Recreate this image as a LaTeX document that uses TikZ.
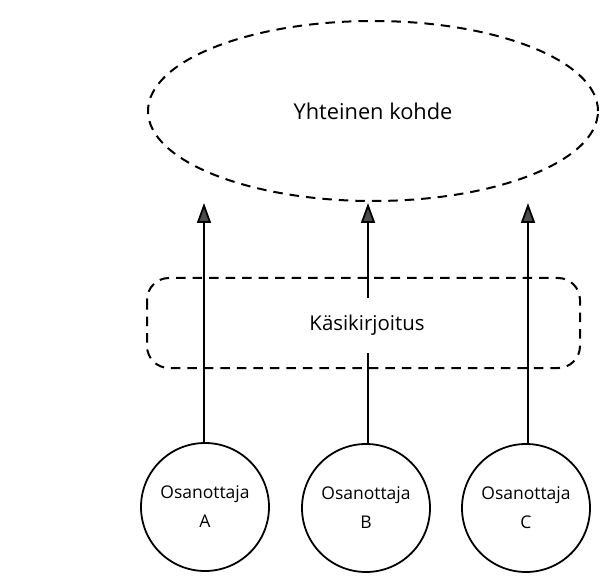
\documentclass[tikz,border=0pt]{standalone}
\usepackage{fontspec}
\setmainfont{Open Sans}
\usetikzlibrary{arrows.meta,shapes.geometric}
\begin{document}
\begin{tikzpicture}[x=1pt,y=-1pt,
  dashline/.style={line width=2pt,dash pattern=on 9.5pt off 7pt},
  person/.style={circle,draw,line width=1.8pt,minimum size=128pt,inner sep=0pt,align=center,font=\fontsize{17.5}{29}\selectfont},
  link/.style={line width=1.8pt,-{Triangle[width=14pt,length=20pt,fill=gray!60!black]}}]
\useasboundingbox (0,0) rectangle (608,588);
\node[ellipse,draw,dashline,minimum width=450pt,minimum height=180pt,inner sep=0pt,font=\fontsize{21.8}{26}\selectfont] (goal) at (373,111) {Yhteinen kohde};
\coordinate (tA) at (204,203);
\coordinate (tB) at (368,203);
\coordinate (tC) at (528,203);
\node[person] (A) at (205,507) {Osanottaja\\A};
\node[person] (B) at (366,508) {Osanottaja\\B};
\node[person] (C) at (526,508) {Osanottaja\\C};
\draw[link] (A.north -| tA) -- (tA);
\draw[link] (B.north -| tB) -- (tB);
\draw[link] (C.north -| tC) -- (tC);
\draw[dashline,rounded corners=22pt] (147,278) rectangle (580,368);
\node[fill=white,minimum height=55pt,inner xsep=2pt,font=\fontsize{20.4}{24}\selectfont] (ms) at (367,325) {Käsikirjoitus};
\end{tikzpicture}
\end{document}
